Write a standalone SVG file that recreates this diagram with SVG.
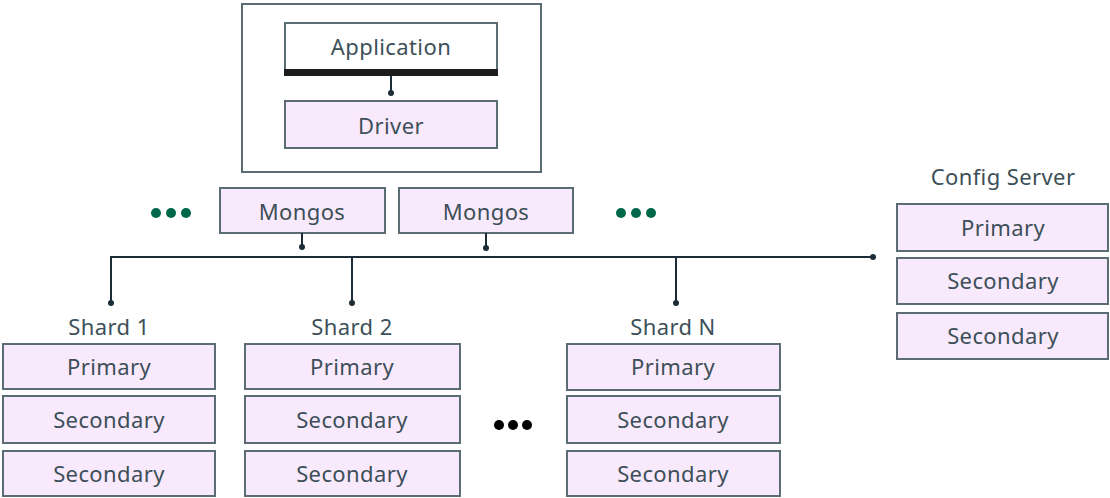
<svg xmlns="http://www.w3.org/2000/svg" width="1110" height="498" viewBox="0 0 1110 498">
<style>
.box{fill:#F8EAFC;stroke:#5C6C75;stroke-width:2}
.wbox{fill:#FFFFFF;stroke:#5C6C75;stroke-width:2}
.t{font-family:"Noto Sans","Liberation Sans",sans-serif;font-size:22px;letter-spacing:0.4px;fill:#3D4F58;text-anchor:middle;dominant-baseline:central}
.ln{fill:none;stroke:#1C2D38;stroke-width:2}
.dot{fill:#1C2D38}
.g{fill:#00684A}
.k{fill:#000000}
</style>
<rect width="1110" height="498" fill="#FFFFFF"/>
<g id="app-host">
<rect class="wbox" x="242" y="4" width="299" height="168"/>
</g>
<g id="application">
<rect class="wbox" x="285" y="23" width="212" height="50"/>
<rect x="284" y="69" width="214" height="7" fill="#1C1C1C"/>
<text class="t" x="391" y="46">Application</text>
</g>
<g id="driver">
<rect class="box" x="285" y="101" width="212" height="47"/>
<text class="t" x="391" y="125">Driver</text>
</g>
<g id="mongos1">
<rect class="box" x="220" y="188" width="165" height="45"/>
<text class="t" x="302" y="211">Mongos</text>
</g>
<g id="mongos2">
<rect class="box" x="399" y="188" width="174" height="45"/>
<text class="t" x="486" y="211">Mongos</text>
</g>
<g id="more-mongos-left">
<circle class="g" cx="156" cy="213" r="5"/>
<circle class="g" cx="171" cy="213" r="5"/>
<circle class="g" cx="186" cy="213" r="5"/>
</g>
<g id="more-mongos-right">
<circle class="g" cx="621" cy="213" r="5"/>
<circle class="g" cx="636" cy="213" r="5"/>
<circle class="g" cx="651" cy="213" r="5"/>
</g>
<g id="connectors">
<line class="ln" x1="391" y1="76" x2="391" y2="93"/>
<circle class="dot" cx="391" cy="93" r="3"/>
<line class="ln" x1="302" y1="233" x2="302" y2="247"/>
<circle class="dot" cx="302" cy="247" r="3"/>
<line class="ln" x1="486" y1="233" x2="486" y2="248"/>
<circle class="dot" cx="486" cy="248" r="3"/>
<polyline class="ln" points="111,303 111,257 873,257"/>
<circle class="dot" cx="873" cy="257" r="3"/>
<line class="ln" x1="352" y1="257" x2="352" y2="303"/>
<circle class="dot" cx="352" cy="303" r="3"/>
<line class="ln" x1="676" y1="257" x2="676" y2="303"/>
<circle class="dot" cx="676" cy="303" r="3"/>
<circle class="dot" cx="111" cy="303" r="3"/>
</g>
<g id="shard1">
<text class="t" x="109" y="326">Shard 1</text>
<rect class="box" x="3" y="344" width="212" height="45"/>
<text class="t" x="109" y="366">Primary</text>
<rect class="box" x="3" y="396" width="212" height="47"/>
<text class="t" x="109" y="419">Secondary</text>
<rect class="box" x="3" y="451" width="212" height="45"/>
<text class="t" x="109" y="473">Secondary</text>
</g>
<g id="shard2">
<text class="t" x="352" y="326">Shard 2</text>
<rect class="box" x="245" y="344" width="215" height="45"/>
<text class="t" x="352" y="366">Primary</text>
<rect class="box" x="245" y="396" width="215" height="47"/>
<text class="t" x="352" y="419">Secondary</text>
<rect class="box" x="245" y="451" width="215" height="45"/>
<text class="t" x="352" y="473">Secondary</text>
</g>
<g id="more-shards">
<circle class="k" cx="499" cy="425" r="5"/>
<circle class="k" cx="513" cy="425" r="5"/>
<circle class="k" cx="527" cy="425" r="5"/>
</g>
<g id="shardN">
<text class="t" x="673" y="326">Shard N</text>
<rect class="box" x="567" y="344" width="213" height="46"/>
<text class="t" x="673" y="366">Primary</text>
<rect class="box" x="567" y="396" width="213" height="47"/>
<text class="t" x="673" y="419">Secondary</text>
<rect class="box" x="567" y="451" width="213" height="45"/>
<text class="t" x="673" y="473">Secondary</text>
</g>
<g id="config-server">
<text class="t" x="1003" y="176">Config Server</text>
<rect class="box" x="897" y="204" width="211" height="47"/>
<text class="t" x="1003" y="227">Primary</text>
<rect class="box" x="897" y="258" width="211" height="46"/>
<text class="t" x="1003" y="280">Secondary</text>
<rect class="box" x="897" y="313" width="211" height="46"/>
<text class="t" x="1003" y="335">Secondary</text>
</g>
</svg>
